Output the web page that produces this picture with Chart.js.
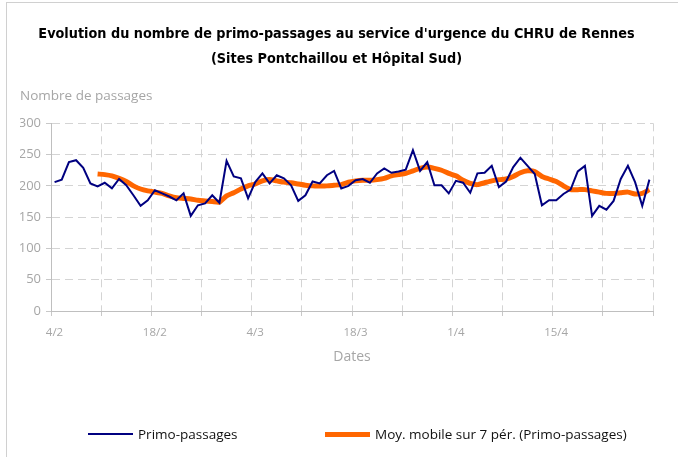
<!DOCTYPE html>
<html>
<head>
<meta charset="utf-8">
<script src="https://cdn.jsdelivr.net/npm/chart.js@4"></script>
<style>
  body { margin: 0; background: #fff; }
  #wrap { position: relative; width: 678px; height: 457px; overflow: hidden; }
  #frame { position: absolute; left: 6px; top: 2px; width: 800px; height: 600px;
           border-left: 1px solid #d0d0d0; border-top: 1px solid #d0d0d0; pointer-events: none; }
  #legend { position: absolute; left: 0; top: 424px; width: 678px; height: 20px;
            font-family: 'Open Sans', sans-serif; font-size: 13.5px; color: #111; }
  .item { position: absolute; top: 0; display: flex; align-items: center; height: 20px; white-space: nowrap; }
  .swatch { display: inline-block; width: 45px; margin-right: 5px; }
</style>
</head>
<body>
<div id="wrap">
  <canvas id="chart" width="678" height="457"></canvas>
  <div id="frame"></div>
  <div id="legend"></div>
</div>
<script>
// jours (4/2 -> 28/4)
const dates = [
  '4/2','5/2','6/2','7/2','8/2','9/2','10/2','11/2','12/2','13/2','14/2','15/2','16/2','17/2',
  '18/2','19/2','20/2','21/2','22/2','23/2','24/2','25/2','26/2','27/2','28/2',
  '1/3','2/3','3/3','4/3','5/3','6/3','7/3','8/3','9/3','10/3','11/3','12/3','13/3','14/3','15/3','16/3','17/3',
  '18/3','19/3','20/3','21/3','22/3','23/3','24/3','25/3','26/3','27/3','28/3','29/3','30/3','31/3',
  '1/4','2/4','3/4','4/4','5/4','6/4','7/4','8/4','9/4','10/4','11/4','12/4','13/4','14/4',
  '15/4','16/4','17/4','18/4','19/4','20/4','21/4','22/4','23/4','24/4','25/4','26/4','27/4','28/4'
];
const tickLabels = ['4/2', '18/2', '4/3', '18/3', '1/4', '15/4'];

const primo = [
  206, 210, 238, 241, 229, 204, 199, 205, 196, 211, 201, 185, 168, 177,
  193, 188, 183, 177, 188, 152, 169, 172, 185, 173, 240, 215, 212, 180,
  206, 220, 204, 217, 212, 201, 176, 185, 207, 204, 217, 224, 196, 200,
  209, 211, 205, 220, 228, 221, 223, 226, 257, 224, 238, 201, 201, 188,
  208, 205, 189, 220, 221, 232, 198, 207, 230, 245, 232, 219, 169, 177,
  177, 187, 194, 223, 232, 152, 168, 162, 176, 211, 232, 206, 168, 210
];
const moyenne = [
  null, null, null, null, null, null, 219, 218, 216, 212, 207, 200, 195, 192,
  190, 188, 184, 181, 180, 179, 177, 176, 175, 174, 184, 189, 195, 200,
  203, 208, 210, 208, 206, 205, 203, 201, 200, 200, 200, 201, 202, 206,
  208, 209, 209, 210, 212, 216, 218, 220, 224, 228, 230, 228, 225, 220,
  216, 209, 204, 202, 205, 208, 210, 211, 215, 221, 224, 223, 215, 211,
  207, 200, 194, 194, 194, 192, 190, 188, 188, 189, 190, 187, 188, 194
];

const gray = '#a6a6a6';
const gridColor = '#d4d4d4';
const axisFont = "'Open Sans', 'Noto Sans', sans-serif";

const ctx = document.getElementById('chart').getContext('2d');
const chart = new Chart(ctx, {
  type: 'line',
  data: {
    datasets: [
      {
        label: 'Primo-passages',
        data: primo.map((v, i) => ({ x: i + 0.5, y: v })),
        borderColor: '#000080',
        borderWidth: 2,
        pointRadius: 0,
        tension: 0
      },
      {
        label: 'Moy. mobile sur 7 pér. (Primo-passages)',
        data: moyenne.map((v, i) => ({ x: i + 0.5, y: v })),
        borderColor: '#ff6600',
        borderWidth: 5,
        borderJoinStyle: 'round',
        pointRadius: 0,
        tension: 0.2
      }
    ]
  },
  options: {
    responsive: false,
    animation: false,
    layout: { padding: { left: 20, right: 25, top: 0, bottom: 92 } },
    plugins: {
      legend: { display: false },
      tooltip: { enabled: false },
      title: {
        display: true,
        text: ["Evolution du nombre de primo-passages au service d'urgence du CHRU de Rennes",
               '(Sites Pontchaillou et Hôpital Sud)'],
        color: '#000',
        font: { family: "'Liberation Sans Narrow', 'DejaVu Sans Condensed', sans-serif", size: 14.3, weight: 'bold', lineHeight: 1.74 },
        padding: { top: 22, bottom: 0 }
      },
      subtitle: {
        display: true,
        text: 'Nombre de passages',
        align: 'start',
        color: gray,
        font: { family: axisFont, size: 13.5, lineHeight: 1.3 },
        padding: { top: 16, bottom: 18 }
      }
    },
    scales: {
      x: {
        type: 'linear',
        min: 0,
        max: 84,
        afterFit: s => { s.height = 54; },
        ticks: {
          stepSize: 7,
          autoSkip: false,
          maxRotation: 0,
          labelOffset: 3.5,
          padding: 10,
          color: gray,
          font: { family: axisFont, size: 11.5 },
          callback: v => (v % 14 === 0 && tickLabels[v / 14]) || ''
        },
        grid: { color: gridColor, tickColor: '#c8c8c8', tickLength: 5, tickBorderDash: [] },
        border: { display: true, color: '#bfbfbf', dash: [8, 5] },
        title: {
          display: true,
          text: 'Dates',
          color: gray,
          font: { family: axisFont, size: 14 },
          padding: { top: 6, bottom: 0 }
        }
      },
      y: {
        min: 0,
        max: 300,
        afterFit: s => { s.width = 31; },
        ticks: {
          stepSize: 50,
          padding: 5,
          color: gray,
          font: { family: axisFont, size: 13 }
        },
        grid: { color: gridColor, tickColor: '#c8c8c8', tickLength: 5, tickBorderDash: [] },
        border: { display: true, color: '#bfbfbf', dash: [8, 5] }
      }
    }
  }
});

// legende HTML construite depuis les datasets
const legend = document.getElementById('legend');
const legendX = [88, 325];
chart.data.datasets.forEach((ds, i) => {
  const item = document.createElement('div');
  item.className = 'item';
  item.style.left = legendX[i] + 'px';
  const sw = document.createElement('span');
  sw.className = 'swatch';
  sw.style.height = ds.borderWidth + 'px';
  sw.style.background = ds.borderColor;
  item.appendChild(sw);
  item.appendChild(document.createTextNode(ds.label));
  legend.appendChild(item);
});
</script>
</body>
</html>
